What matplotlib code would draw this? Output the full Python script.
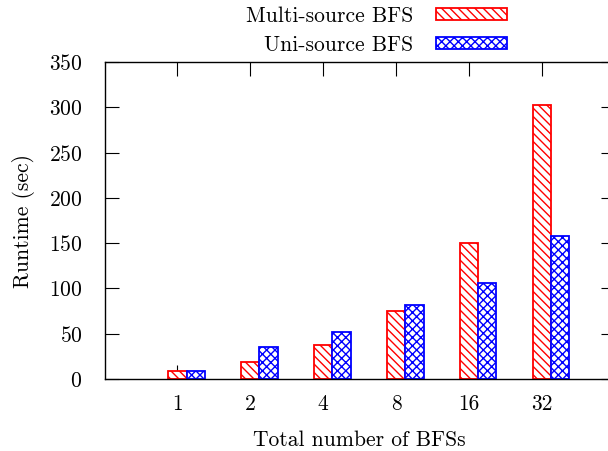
import matplotlib
matplotlib.use('Agg')
import matplotlib.pyplot as plt
import numpy as np

categories = ['1', '2', '4', '8', '16', '32']
multi_source = [9, 19, 37.5, 75, 150.5, 302]
uni_source = [9, 35, 52, 81.5, 106, 157.5]
yticks = [0, 50, 100, 150, 200, 250, 300, 350]

plt.rcParams['font.family'] = ['cmr10', 'DejaVu Serif']
plt.rcParams['axes.formatter.use_mathtext'] = True
plt.rcParams['hatch.linewidth'] = 1.0
fs = 15.5

fig = plt.figure(figsize=(6.08, 4.51), dpi=100)
ax = fig.add_axes([0.1719, 0.1596, 0.8396, 0.7029])

x = np.arange(len(categories))
w = 0.25
ax.bar(x, multi_source, w, facecolor='white', edgecolor='#ff0000',
       hatch='\\\\\\\\', linewidth=1.3, label='Multi-source BFS', zorder=3)
ax.bar(x + w, uni_source, w, facecolor='white', edgecolor='#0000ff',
       hatch='xxxx', linewidth=1.3, label='Uni-source BFS', zorder=3)

ax.set_xlim(-1, 6)
ax.set_ylim(0, 350)
ax.set_xticks(x)
ax.set_xticklabels(categories)
ax.set_yticks(yticks)
ax.tick_params(direction='in', length=10, width=0.8, top=True, right=True,
               labelsize=fs)
ax.tick_params(axis='y', pad=16)
ax.tick_params(axis='x', pad=11)
for s in ax.spines.values():
    s.set_linewidth(1.0)
    s.set_zorder(4)

ax.set_xlabel('Total number of BFSs', fontsize=fs, labelpad=12)
ax.set_ylabel('Runtime (sec)', fontsize=fs, labelpad=10)

ax.legend(loc='upper right', bbox_to_anchor=(507 / 608, 1 - 6 / 451),
          bbox_transform=fig.transFigure, frameon=False, markerfirst=False,
          handlelength=3.3, handleheight=0.47, handletextpad=1.05,
          labelspacing=0.45, borderpad=0, borderaxespad=0, fontsize=fs)

fig.savefig('out.png', dpi=100)
